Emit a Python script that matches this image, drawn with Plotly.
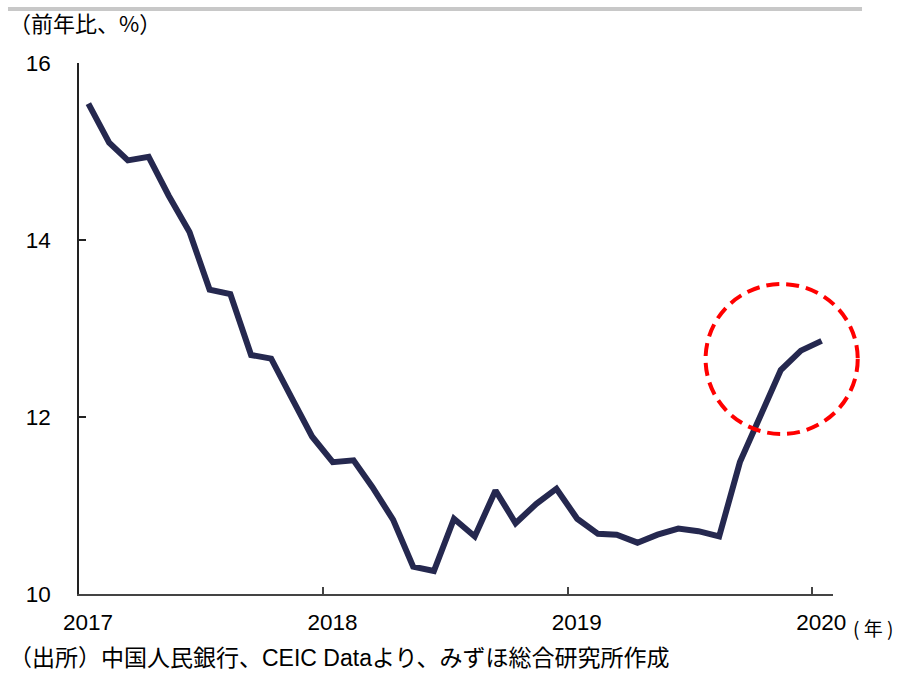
import pandas as pd
import plotly.graph_objects as go

# Monthly year-on-year growth, Jan 2017 - Jan 2020 (%)
months = pd.date_range("2017-01-01", periods=37, freq="MS")
growth = [
    15.54, 15.10, 14.90, 14.94, 14.50, 14.09, 13.44, 13.39, 12.70, 12.66, 12.21, 11.78,
    11.49, 11.51, 11.21, 10.84, 10.31, 10.26, 10.85, 10.65, 11.17, 10.80, 11.02, 11.19,
    10.85, 10.68, 10.67, 10.58, 10.67, 10.74, 10.71, 10.65, 11.49, 12.02, 12.53, 12.75,
    12.86,
]
year_ticks = ["2017-01-01", "2018-01-01", "2019-01-01", "2020-01-01"]
year_labels = ["2017", "2018", "2019", "2020"]
y_ticks = [10, 12, 14, 16]

# plot each monthly value at the middle of its month
x_points = months + pd.Timedelta(days=14)

LATIN = "Liberation Sans, Arial, Noto Sans CJK JP, sans-serif"
CJK = "Noto Sans CJK JP, Liberation Sans, sans-serif"

fig = go.Figure()
fig.add_trace(go.Scatter(
    x=x_points, y=growth, mode="lines",
    line=dict(color="#25284f", width=6),
    hoverinfo="skip", showlegend=False,
))

fig.update_layout(
    width=899, height=674,
    margin=dict(l=79, r=66, t=63, b=80),
    paper_bgcolor="white", plot_bgcolor="white",
    font=dict(family=LATIN, size=22, color="#000000"),
    xaxis=dict(
        type="date", range=["2017-01-01", "2020-02-01"],
        tickvals=year_ticks, ticktext=year_labels,
        ticks="inside", ticklen=7, tickwidth=1.5, tickcolor="#444444",
        showline=True, linecolor="#444444", linewidth=1.5,
        showgrid=False, zeroline=False,
        tickfont=dict(family=LATIN, size=22.5, color="#000000"),
        ticklabelshift=9, ticklabelstandoff=7,
    ),
    yaxis=dict(
        range=[10, 16], tickvals=y_ticks,
        ticks="inside", ticklen=7, tickwidth=1.5, tickcolor="#222222",
        showline=True, linecolor="#222222", linewidth=1.5,
        showgrid=False, zeroline=False,
        tickfont=dict(family=LATIN, size=22.5, color="#000000"),
        ticklabelstandoff=22,
    ),
)

# light grey rule across the top
fig.add_shape(type="line", xref="paper", yref="paper",
              x0=-0.0942, x1=1.0385, y0=1.1017, y1=1.1017,
              line=dict(color="#c8c8c8", width=4))

# dashed red highlight ring around the latest readings
fig.add_shape(type="circle", xref="paper", yref="paper",
              x0=0.831, x1=1.0328, y0=0.3013, y1=0.5838,
              line=dict(color="#ff0000", width=4, dash="13px,7px"),
              fillcolor="rgba(0,0,0,0)", layer="above")

fig.add_annotation(text="（前年比、%）", xref="paper", yref="paper",
                   x=-0.096, y=1.077, xanchor="left", yanchor="middle",
                   showarrow=False, font=dict(family=CJK, size=22, color="#000000"))
fig.add_annotation(text="( 年 )", xref="paper", yref="paper",
                   x=1.0235, y=-0.064, xanchor="left", yanchor="middle",
                   showarrow=False, font=dict(family=CJK, size=19, color="#000000"))
# source note along the bottom edge
fig.add_annotation(text="（出所）中国人民銀行、CEIC Dataより、みずほ総合研究所作成",
                   xref="paper", yref="paper",
                   x=-0.096, y=-0.1205, xanchor="left", yanchor="middle",
                   showarrow=False, font=dict(family=LATIN, size=23, color="#000000"))

fig.write_html("out.html")
